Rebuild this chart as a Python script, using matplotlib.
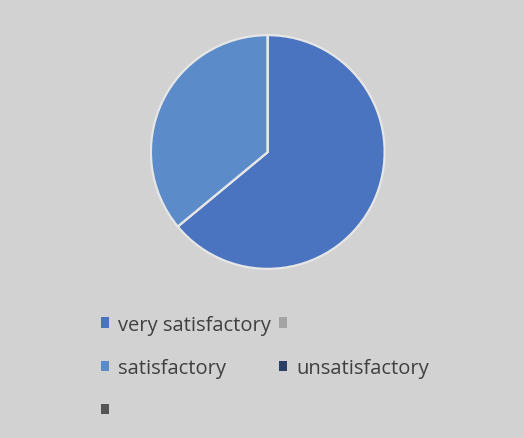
import matplotlib.pyplot as plt
from matplotlib.patches import Patch

# data (shares in percent)
categories = ["very satisfactory", "", "satisfactory", "unsatisfactory", ""]
shares = [64, 0, 36, 0, 0]
colours = ["#4a74c0", "#a4a4a4", "#5b8bc9", "#2c3e66", "#555555"]

fig = plt.figure(figsize=(5.24, 4.39), dpi=100)
fig.patch.set_facecolor("#d2d2d2")

ax = fig.add_axes([0.288, 0.385, 0.446, 0.533])
ax.pie(shares, colors=colours, startangle=90, counterclock=False,
       wedgeprops=dict(edgecolor="#e6e6e6", linewidth=1.6))
ax.set_xlim(-1, 1)
ax.set_ylim(-1, 1)
ax.set_aspect("equal")

# legend fills column-wise, so reorder to get the row layout of the picture
order = [0, 2, 4, 1, 3]
handles = [Patch(facecolor=colours[i], edgecolor="none") for i in order]
labels = [categories[i] for i in order]
leg = fig.legend(handles, labels, ncol=2, loc="upper left",
                 bbox_to_anchor=(0.158, 0.322), frameon=False,
                 handlelength=0.4, handleheight=0.4, handletextpad=0.45,
                 columnspacing=0.4, labelspacing=1.15,
                 prop=dict(family="Open Sans", size=14.5))
for t in leg.get_texts():
    t.set_color("#404040")

plt.savefig("out.png", dpi=100, facecolor=fig.get_facecolor())
